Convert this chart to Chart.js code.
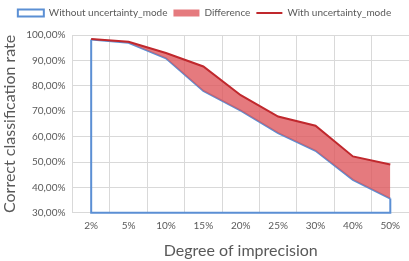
<!DOCTYPE html>
<html>
<head>
<meta charset="utf-8">
<script src="https://cdn.jsdelivr.net/npm/chart.js@4"></script>
<style>
html,body{margin:0;padding:0;background:#fff;}
#wrap{width:409px;height:261px;}
</style>
</head>
<body>
<div id="wrap"><canvas id="c"></canvas></div>
<script>
const categories = ['2%','5%','10%','15%','20%','25%','30%','40%','50%'];
const withoutUncertainty = [0.982, 0.969, 0.908, 0.780, 0.702, 0.614, 0.544, 0.430, 0.356];
const withUncertainty = [0.984, 0.973, 0.929, 0.876, 0.763, 0.679, 0.643, 0.522, 0.490];
const yTicks = [0.3, 0.4, 0.5, 0.6, 0.7, 0.8, 0.9, 1.0];

const BLUE = '#5b8fd4';
const RED = '#c0282d';
const FILL = 'rgba(222,85,90,0.78)';
const TXT = '#595959';
const FONT = 'Lato, "Open Sans", sans-serif';

function fmtPct(v){
  return (v*100).toFixed(2).replace('.', ',') + '%';
}

const outlinePlugin = {
  id: 'areaOutline',
  beforeInit(chart){
    const lg = chart.legend;
    if (lg) {
      const origFit = lg.fit;
      lg.fit = function(){ origFit.call(this); this.height += 7; };
    }
  },
  beforeDatasetsDraw(chart){
    const xs = chart.scales.x, ys = chart.scales.y;
    const ctx = chart.ctx;
    const n = withoutUncertainty.length;
    const base = ys.getPixelForValue(ys.min);
    ctx.save();
    ctx.strokeStyle = BLUE;
    ctx.lineWidth = 2;
    ctx.lineJoin = 'miter';
    ctx.beginPath();
    ctx.moveTo(xs.getPixelForValue(0), ys.getPixelForValue(withoutUncertainty[0]));
    ctx.lineTo(xs.getPixelForValue(0), base);
    ctx.lineTo(xs.getPixelForValue(n-1), base);
    ctx.lineTo(xs.getPixelForValue(n-1), ys.getPixelForValue(withoutUncertainty[n-1]));
    ctx.stroke();
    ctx.restore();
  }
};

new Chart(document.getElementById('c'), {
  type: 'line',
  data: {
    labels: categories,
    datasets: [
      {label:'Without uncertainty_mode', data: withoutUncertainty, borderColor: BLUE, backgroundColor:'#fff', borderWidth:2, pointRadius:0, fill:false, tension:0, order:3},
      {label:'Difference', data: withUncertainty, borderColor: FILL, backgroundColor: FILL, borderWidth:0, pointRadius:0, fill:'-1', tension:0, order:2},
      {label:'With uncertainty_mode', data: withUncertainty, borderColor: RED, backgroundColor: RED, borderWidth:2, pointRadius:0, fill:false, tension:0, order:1}
    ]
  },
  options: {
    responsive: true,
    maintainAspectRatio: false,
    animation: false,
    layout: {padding: {left: 0, right: 0, top: 2, bottom: 1}},
    plugins: {
      legend: {
        position: 'top',
        labels: {
          usePointStyle: true,
          pointStyleWidth: 26,
          boxHeight: 7,
          padding: 6,
          color: TXT,
          font: {family: FONT, size: 10},
          generateLabels(chart){
            return [
              {text:'Without uncertainty_mode', fillStyle:'#ffffff', strokeStyle: BLUE, lineWidth:2, pointStyle:'rect', datasetIndex:0, fontColor: TXT},
              {text:'Difference', fillStyle: FILL, strokeStyle: FILL, lineWidth:0, pointStyle:'rect', datasetIndex:1, fontColor: TXT},
              {text:'With uncertainty_mode', fillStyle: RED, strokeStyle: RED, lineWidth:2, pointStyle:'line', datasetIndex:2, fontColor: TXT}
            ];
          }
        }
      },
      tooltip: {enabled:false}
    },
    scales: {
      x: {
        type: 'category',
        offset: true,
        grid: {offset: true, color:'#d9d9d9', drawTicks:false},
        border: {display:false},
        ticks: {color: TXT, font:{family: FONT, size: 10}, padding: 7, maxRotation:0},
        title: {display:true, text:'Degree of imprecision', color: TXT, font:{family: FONT, size: 16}, padding:{top:2, bottom:0}}
      },
      y: {
        min: 0.3, max: 1.0,
        afterBuildTicks(scale){ scale.ticks = yTicks.map(v => ({value: v})); },
        grid: {color:'#d9d9d9', drawTicks:false},
        border: {display:false},
        ticks: {color: TXT, font:{family: FONT, size: 10}, padding: 7, callback: v => fmtPct(v)},
        title: {display:true, text:'Correct classification rate', color: TXT, font:{family: FONT, size: 16}, padding:{top:0, bottom:0}}
      }
    }
  },
  plugins: [outlinePlugin]
});
</script>
</body>
</html>
